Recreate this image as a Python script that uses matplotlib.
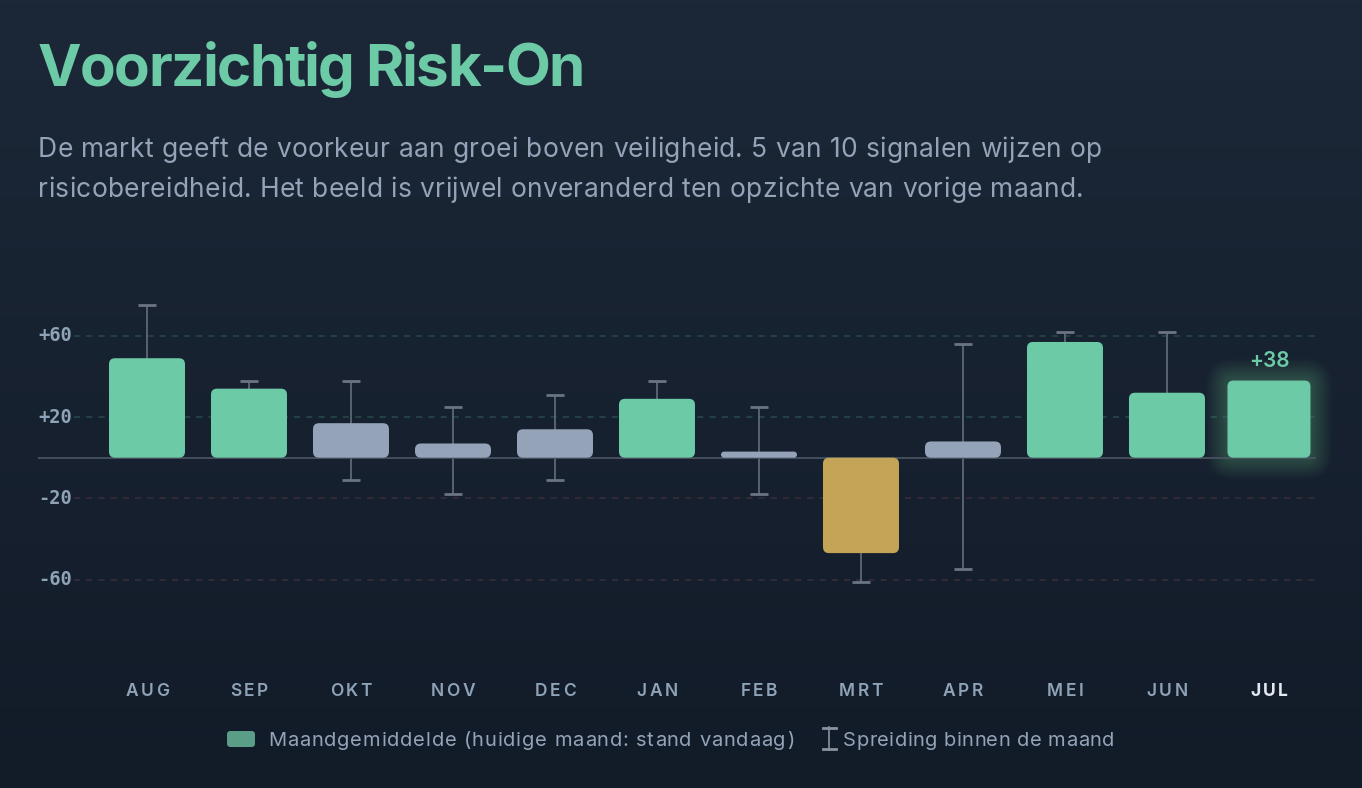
import numpy as np
import matplotlib
matplotlib.use("Agg")
import matplotlib.pyplot as plt
from matplotlib.patches import FancyBboxPatch
from matplotlib.patches import BoxStyle
from matplotlib.font_manager import FontProperties, findfont
from matplotlib.ft2font import FT2Font
try:
    from matplotlib.ft2font import LoadFlags
    NOHINT = LoadFlags.NO_HINTING
except Exception:
    NOHINT = 2

# ---------------- data ----------------
months = ['AUG', 'SEP', 'OKT', 'NOV', 'DEC', 'JAN', 'FEB', 'MRT', 'APR', 'MEI', 'JUN', 'JUL']
avg = [49, 34, 17, 7, 14, 29, 3, -47, 8, 57, 32, 38]
range_low = [30, 30, -11, -18, -11, 25, -18, -61, -55, 52, 25, np.nan]
range_high = [75, 38, 38, 25, 31, 38, 25, -30, 56, 62, 62, np.nan]
ytick_vals = [60, 20, -20, -60]
ytick_labels = ['+60', '+20', '-20', '-60']

title = 'Voorzichtig Risk-On'
subtitle_lines = ['De markt geeft de voorkeur aan groei boven veiligheid. 5 van 10 signalen wijzen op',
                  'risicobereidheid. Het beeld is vrijwel onveranderd ten opzichte van vorige maand.']
legend_bar = 'Maandgemiddelde (huidige maand: stand vandaag)'
legend_err = 'Spreiding binnen de maand'

# ---------------- style ----------------
GREEN = '#6ccaa7'
GRAY = '#94a3b8'
GOLD = '#c4a457'
TXT = '#8fa3b8'
W, H = 1362, 788
DPI = 100

fig = plt.figure(figsize=(W / DPI, H / DPI), dpi=DPI)

# background gradient
bg = fig.add_axes([0, 0, 1, 1], zorder=-10)
top = np.array([0x1c, 0x28, 0x38]) / 255
bot = np.array([0x12, 0x1b, 0x28]) / 255
t = np.linspace(0, 1, 256)[:, None]
grad = top[None, :] * (1 - t) + bot[None, :] * t
bg.imshow(grad[:, None, :], aspect='auto', extent=[0, 1, 0, 1])
bg.set_axis_off()


def advances(s, prop):
    f = FT2Font(findfont(prop))
    f.set_size(prop.get_size_in_points(), DPI)
    out = []
    for c in s:
        g = f.load_char(ord(c), flags=NOHINT)
        out.append(g.linearHoriAdvance / 65536.0)
    return out


def ttext(x, y, s, size, color, family='Inter', weight='normal', track=0.0,
          width=None, ha='left', zorder=5):
    prop = FontProperties(family=[family, 'DejaVu Sans'], weight=weight, size=size)
    adv = advances(s, prop)
    n = len(s)
    nat = sum(adv)
    if width is not None and n > 1:
        track = (width - nat) / (n - 1)
    total = nat + track * (n - 1)
    if ha == 'center':
        x0 = x - total / 2
    elif ha == 'right':
        x0 = x - total
    else:
        x0 = x
    cx = x0
    for c, a in zip(s, adv):
        if c != ' ':
            fig.text(cx / W, 1 - y / H, c, fontproperties=prop, color=color,
                     ha='left', va='baseline', zorder=zorder)
        cx += a + track


# ---------------- titles ----------------
ttext(38, 86, title, 42, GREEN, weight='bold', width=547)
ttext(38, 157, subtitle_lines[0], 19, '#94a3b8', width=1064)
ttext(38, 197, subtitle_lines[1], 19, '#94a3b8', width=1046)

# ---------------- chart axes ----------------
ax_l, ax_r, ax_t, ax_b = 38, 1316, 290, 640
ax = fig.add_axes([ax_l / W, 1 - ax_b / H, (ax_r - ax_l) / W, (ax_b - ax_t) / H])
ax.set_facecolor('none')
x = np.arange(len(months))
xlim = (-1.0686, 11.461)
ylim = (-89.8, 82.6)
ax.set_xlim(*xlim)
ax.set_ylim(*ylim)
ax.set_axis_off()

px_x = (ax_r - ax_l) / (xlim[1] - xlim[0])
px_y = (ax_b - ax_t) / (ylim[1] - ylim[0])
aspect = px_x / px_y

# grid lines
grid_start = xlim[0] + (74 - ax_l) / px_x
for v in ytick_vals:
    col = '#284a4b' if v > 0 else '#3b2f3b'
    ax.plot([grid_start, xlim[1]], [v, v], color=col, lw=1.1, dashes=(4, 4), zorder=1)
ax.plot(list(xlim), [0, 0], color='#4b5563', lw=1.2, zorder=2.5, solid_capstyle='butt')

for v, lab in zip(ytick_vals, ytick_labels):
    ax.text(xlim[0], v, lab, family='DejaVu Sans Mono', weight='bold', fontsize=13.5,
            color=TXT, ha='left', va='center')

# error bars (drawn behind bars)
lo = np.array(range_low, dtype=float)
hi = np.array(range_high, dtype=float)
mid = (lo + hi) / 2
ax.errorbar(x, mid, yerr=[mid - lo, hi - mid], fmt='none', ecolor='#6b7482',
            elinewidth=1.1, capsize=6.2, capthick=2.0, zorder=2)


def colour_for(v):
    if v >= 20:
        return GREEN
    if v <= -20:
        return GOLD
    return GRAY


def rbar(xc, v, width_units, color, zorder=3, alpha=1.0, pad_px=0.0, r_px=6.0):
    y0, y1 = min(0, v), max(0, v)
    h_px = (y1 - y0) * px_y + 2 * pad_px
    w_px = width_units * px_x + 2 * pad_px
    r = min(r_px, h_px / 2, w_px / 2)
    px0 = xc - width_units / 2 - pad_px / px_x
    py0 = y0 - pad_px / px_y
    p = FancyBboxPatch((px0, py0), w_px / px_x, h_px / px_y,
                       boxstyle=BoxStyle.Round(pad=0, rounding_size=r / px_x),
                       mutation_aspect=aspect, facecolor=color, edgecolor='none',
                       alpha=alpha, zorder=zorder, clip_on=False)
    ax.add_patch(p)


for i, v in enumerate(avg):
    last = i == len(avg) - 1
    wu = (83 if last else 76) / px_x
    if last:
        for k in range(22, 0, -1):
            rbar(i, v, wu, GREEN, zorder=2.2, alpha=0.014, pad_px=k * 1.0, r_px=6 + k * 1.0)
    rbar(i, v, wu, colour_for(v), zorder=3)

ax.annotate(f'+{avg[-1]}', (x[-1], avg[-1]), xytext=(0, 7), textcoords='offset points',
            ha='center', va='bottom', fontsize=15, weight='semibold',
            family=['Inter', 'DejaVu Sans'], color=GREEN, zorder=6)

# month labels
for i, m in enumerate(months):
    xp = ax.transData.transform((i, 0))[0]
    last = i == len(months) - 1
    ttext(xp, 696, m, 12.5, '#e2e8f0' if last else TXT, weight='bold' if last else 'semibold',
          track=2.6, ha='center')

# legend
lg = fig.add_axes([0, 0, 1, 1], zorder=4)
lg.set_xlim(0, W)
lg.set_ylim(H, 0)
lg.set_axis_off()
lg.add_patch(FancyBboxPatch((227, 731), 28, 16, boxstyle=BoxStyle.Round(pad=0, rounding_size=3.5),
                            facecolor='#5a9e88', edgecolor='none'))
ttext(268, 746, legend_bar, 14.5, '#94a3b8', width=526)
icol = '#8a929e'
lg.plot([829, 829], [727, 750], color=icol, lw=1.2)
lg.plot([823, 836], [728, 728], color=icol, lw=2.0)
lg.plot([823, 836], [749, 749], color=icol, lw=2.0)
ttext(843, 746, legend_err, 14.5, '#94a3b8', width=271)

fig.savefig('out.png', dpi=DPI)
